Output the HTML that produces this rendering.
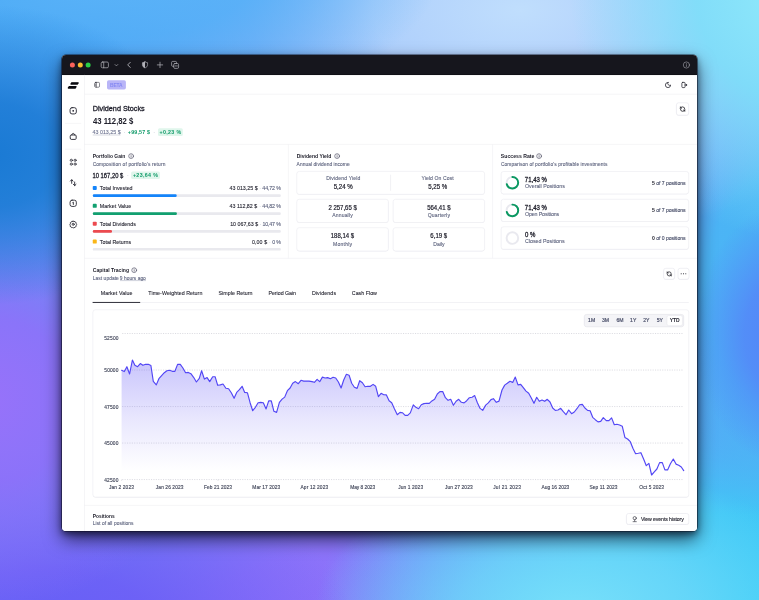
<!DOCTYPE html>
<html lang="en">
<head>
<meta charset="utf-8">
<title>Dividend Stocks</title>
<style>
html,body{margin:0;padding:0}
body{width:759px;height:600px;overflow:hidden;position:relative;font-family:"Liberation Sans", sans-serif;background:radial-gradient(ellipse 200px 150px at -10px 155px, rgba(26,122,212,1) 0%, rgba(26,122,212,.85) 35%, rgba(26,122,212,0) 100%),radial-gradient(ellipse 330px 150px at 110px -30px, rgba(92,180,248,1) 0%, rgba(82,176,248,.8) 45%, rgba(78,172,247,0) 100%),radial-gradient(ellipse 240px 210px at -20px 400px, rgba(152,114,250,1) 0%, rgba(146,110,250,.85) 40%, rgba(110,100,245,0) 100%),radial-gradient(ellipse 320px 200px at 40px 650px, rgba(102,92,246,1) 0%, rgba(106,92,246,.85) 40%, rgba(112,92,247,0) 100%),radial-gradient(ellipse 230px 250px at 800px -10px, rgba(146,236,251,1) 0%, rgba(126,224,249,.9) 45%, rgba(100,200,248,0) 100%),radial-gradient(ellipse 420px 230px at 520px 10px, rgba(192,222,253,1) 0%, rgba(188,218,253,.85) 35%, rgba(170,206,251,.45) 65%, rgba(160,200,250,0) 100%),radial-gradient(ellipse 90px 130px at 785px 335px, rgba(84,132,248,1) 0%, rgba(84,136,248,.88) 45%, rgba(78,160,248,0) 100%),radial-gradient(ellipse 170px 240px at 790px 290px, rgba(72,184,245,1) 0%, rgba(72,184,245,.92) 50%, rgba(72,190,245,0) 100%),radial-gradient(ellipse 260px 150px at 575px 615px, rgba(120,224,250,1) 0%, rgba(118,218,250,.7) 45%, rgba(118,210,250,0) 100%),radial-gradient(ellipse 420px 300px at 730px 640px, rgba(54,208,246,1) 0%, rgba(58,208,246,.9) 42%, rgba(66,212,247,0) 100%),radial-gradient(ellipse 300px 220px at 330px 640px, rgba(144,112,250,1) 0%, rgba(144,112,250,.85) 40%, rgba(144,112,250,0) 100%),linear-gradient(135deg, #4aa2f0 0%, #6f8cf6 50%, #7a78f6 100%);}
#shadow{position:absolute;left:61.9px;top:54.6px;width:635.2px;height:476.4px;border-radius:4px;background:linear-gradient(#16161d 0,#16161d 18px,#fff 18px,#fff 100%);
 box-shadow:0 0 0 0.6px rgba(10,10,25,.8), 0 8px 18px rgba(0,0,15,.66), 0 3px 6px rgba(0,0,15,.48);}
#win{position:absolute;left:61.9px;top:54.6px;width:635.2px;height:476.4px;border-radius:4px;overflow:hidden;background:#fff;}
#in{position:absolute;left:-61.9px;top:-54.6px;width:759px;height:600px;}
#in svg{position:absolute;left:0;top:0;}
.t{position:absolute;white-space:pre;line-height:12px;}
</style>
</head>
<body>
<div id="shadow"></div>
<div id="win"><div id="in">
<svg width="759" height="600" viewBox="0 0 759 600">
<rect x="60.90" y="53.60" width="637.20" height="21.30" fill="#16161d"/>
<line x1="61.90" y1="74.55" x2="697.10" y2="74.55" stroke="#050508" stroke-width="0.7"/>
<circle cx="72.40" cy="65.0" r="2.5" fill="#fb625b"/>
<circle cx="80.30" cy="65.0" r="2.5" fill="#fbbd2e"/>
<circle cx="88.10" cy="65.0" r="2.5" fill="#2bcf46"/>
<g transform="translate(104.80 64.90) scale(0.3600) translate(-12 -12)" fill="none" stroke="#b2b2b9" stroke-width="2" stroke-linecap="round" stroke-linejoin="round"><rect x="2" y="4" width="20" height="16" rx="3.5"/><path d="M9 4v16"/></g>
<g transform="translate(116.40 65.10) scale(0.2000) translate(-12 -12)" fill="none" stroke="#b2b2b9" stroke-width="3.2" stroke-linecap="round" stroke-linejoin="round"><path d="M5 9l7 7 7-7"/></g>
<g transform="translate(129.20 64.90) scale(0.3000) translate(-12 -12)" fill="none" stroke="#b2b2b9" stroke-width="3" stroke-linecap="round" stroke-linejoin="round"><path d="M15.500 3.500L7 12l8.500 8.500"/></g>
<g transform="translate(145.00 64.90) scale(0.3200) translate(-12 -12)" fill="none" stroke="#b2b2b9" stroke-width="2" stroke-linecap="round" stroke-linejoin="round"><path d="M12 2.500c2.500 1.500 5 2.200 8 2.500v6.500c0 5-3.500 8.500-8 10-4.500-1.500-8-5-8-10V5c3-.3 5.500-1 8-2.500z"/><path d="M12 2.500v19c-4.500-1.500-8-5-8-10V5c3-.3 5.500-1 8-2.500z" fill="#b2b2b9" stroke="none"/></g>
<g transform="translate(160.00 64.90) scale(0.3000) translate(-12 -12)" fill="none" stroke="#b2b2b9" stroke-width="2.4" stroke-linecap="round" stroke-linejoin="round"><path d="M12 3v18M3 12h18"/></g>
<g transform="translate(175.10 64.90) scale(0.3500) translate(-12 -12)" fill="none" stroke="#b2b2b9" stroke-width="2" stroke-linecap="round" stroke-linejoin="round"><rect x="8" y="8" width="14" height="14" rx="3.500"/><path d="M16 8V5a3 3 0 0 0-3-3H5a3 3 0 0 0-3 3v8a3 3 0 0 0 3 3h3"/><path d="M11.500 15h7"/></g>
<g transform="translate(686.40 65.00) scale(0.3100) translate(-12 -12)" fill="none" stroke="#b2b2b9" stroke-width="1.8" stroke-linecap="round" stroke-linejoin="round"><circle cx="12" cy="12" r="10"/><path d="M12 11v6"/><path d="M12 7.500v.01"/></g>
<line x1="84.50" y1="74.90" x2="84.50" y2="531.00" stroke="#eeeef2" stroke-width="0.6"/>
<line x1="84.50" y1="94.20" x2="697.10" y2="94.20" stroke="#eeeef2" stroke-width="0.6"/>
<line x1="65.00" y1="123.40" x2="81.20" y2="123.40" stroke="#eeeef2" stroke-width="0.6"/>
<line x1="65.00" y1="149.20" x2="81.20" y2="149.20" stroke="#eeeef2" stroke-width="0.6"/>
<line x1="84.50" y1="144.40" x2="697.10" y2="144.40" stroke="#eeeef2" stroke-width="0.6"/>
<line x1="84.50" y1="258.30" x2="697.10" y2="258.30" stroke="#eeeef2" stroke-width="0.6"/>
<line x1="84.50" y1="505.40" x2="697.10" y2="505.40" stroke="#eeeef2" stroke-width="0.6"/>
<line x1="288.40" y1="144.40" x2="288.40" y2="258.30" stroke="#eeeef2" stroke-width="0.6"/>
<line x1="492.60" y1="144.40" x2="492.60" y2="258.30" stroke="#eeeef2" stroke-width="0.6"/>
<g fill="#0a0a0f" stroke="#0a0a0f" stroke-width="1.35" stroke-linejoin="round"><path d="M71.700 82.850H78.150L77.450 84.000H71.000Z"/><path d="M69.100 86.750H76.000L75.300 87.950H68.400Z"/></g>
<g transform="translate(73.20 110.80) scale(0.3300) translate(-12 -12)" fill="none" stroke="#22222d" stroke-width="2.7" stroke-linecap="round" stroke-linejoin="round"><rect x="2.500" y="2.500" width="19" height="19" rx="6"/><circle cx="12" cy="12" r="2.700" fill="#22222d" stroke="none"/></g>
<g transform="translate(73.20 136.60) scale(0.3300) translate(-12 -12)" fill="none" stroke="#22222d" stroke-width="2.7" stroke-linecap="round" stroke-linejoin="round"><path d="M3 10c0-1.700 1.300-3 3-3h12c1.700 0 3 1.300 3 3v7.500c0 1.700-1.300 3-3 3H6c-1.700 0-3-1.300-3-3z"/><path d="M7.500 7c0-2.500 2-4.500 4.500-4.500s4.500 2 4.500 4.500"/></g>
<g transform="translate(73.20 162.20) scale(0.3300) translate(-12 -12)" fill="none" stroke="#22222d" stroke-width="2.3" stroke-linecap="round" stroke-linejoin="round"><circle cx="6.200" cy="6.200" r="3.300"/><circle cx="17.800" cy="6.200" r="3.300"/><circle cx="6.200" cy="17.800" r="3.300"/><circle cx="17.800" cy="17.800" r="3.300"/></g>
<g transform="translate(73.20 182.70) scale(0.3300) translate(-12 -12)" fill="none" stroke="#22222d" stroke-width="2.7" stroke-linecap="round" stroke-linejoin="round"><path d="M7.500 14V3.500M3.500 7l4-4 4 4M16.500 10v10.500M20.500 17l-4 4-4-4"/></g>
<g transform="translate(73.20 203.30) scale(0.3300) translate(-12 -12)" fill="none" stroke="#22222d" stroke-width="2.6" stroke-linecap="round" stroke-linejoin="round"><rect x="2.500" y="2.500" width="19" height="19" rx="6"/><path d="M10.800 9.500l1.700-1v7"/></g>
<g transform="translate(73.20 224.30) scale(0.3300) translate(-12 -12)" fill="none" stroke="#22222d" stroke-width="2.5" stroke-linecap="round" stroke-linejoin="round"><circle cx="12" cy="12" r="3.200"/><path d="M12 2.200l2.500 1.500 2.900-.3 1.200 2.700 2.700 1.200-.3 2.900 1.500 2.500-1.500 2.500.3 2.900-2.700 1.200-1.200 2.700-2.900-.3-2.500 1.500-2.500-1.500-2.900.3-1.200-2.700-2.700-1.200.3-2.900L2 12.700l1.500-2.500-.3-2.900 2.700-1.200 1.200-2.700 2.900.3z"/></g>
<g transform="translate(97.10 84.80) scale(0.2700) translate(-12 -12)" fill="none" stroke="#22222d" stroke-width="2" stroke-linecap="round" stroke-linejoin="round"><rect x="3" y="3" width="18" height="18" rx="4"/><path d="M9 3v18"/><path d="M3 7h6v10H3z" fill="#22222d" stroke="none" opacity=".35"/></g>
<rect x="107.00" y="80.20" width="18.90" height="9.30" rx="1.70" fill="#b9b5f7"/>
<g transform="translate(668.00 85.00) scale(0.2900) translate(-12 -12)" fill="none" stroke="#22222d" stroke-width="2.6" stroke-linecap="round" stroke-linejoin="round"><path d="M12 3a6.500 6.500 0 0 0 9 9 9 9 0 1 1-9-9z"/></g>
<g transform="translate(684.20 85.00) scale(0.2900) translate(-12 -12)" fill="none" stroke="#22222d" stroke-width="2.6" stroke-linecap="round" stroke-linejoin="round"><rect x="4" y="3" width="11" height="18" rx="3"/><path d="M15 12h6M19 9.500l2.500 2.500-2.500 2.500" /></g>
<rect x="676.40" y="103.20" width="12.30" height="12.50" rx="2.20" fill="#f1f1f4"/>
<rect x="676.40" y="102.80" width="12.30" height="12.40" rx="2.20" fill="#fff" stroke="#e4e4ea" stroke-width="0.55"/>
<g transform="translate(682.60 109.10) scale(0.2450) translate(-12 -12)" fill="none" stroke="#15151d" stroke-width="3.1" stroke-linecap="round" stroke-linejoin="round"><path d="M21 12a9 9 0 0 0-9-9 9.750 9.750 0 0 0-6.740 2.740L3 8"/><path d="M3 3v5h5"/><path d="M3 12a9 9 0 0 0 9 9 9.750 9.750 0 0 0 6.740-2.740L21 16"/><path d="M16 16h5v5"/></g>
<line x1="92.80" y1="135.00" x2="120.50" y2="135.00" stroke="#a5a9bd" stroke-width="0.45"/>
<rect x="158.00" y="128.20" width="24.80" height="7.90" rx="1.50" fill="#e0f6ec"/>
<g fill="none" stroke="#3f3f58" stroke-width="0.6" stroke-linecap="round"><circle cx="131.10" cy="156.10" r="2.4"/><path d="M131.10 155.95v1.250"/><path d="M131.10 154.95v0.050" stroke-width="0.55"/></g>
<rect x="131.10" y="171.40" width="28.80" height="7.50" rx="1.50" fill="#e0f6ec"/>
<rect x="92.75" y="185.90" width="4.00" height="4.00" rx="0.90" fill="#1484fa"/>
<rect x="92.80" y="194.30" width="188.00" height="2.70" rx="1.20" fill="#e9e9ee"/>
<rect x="92.80" y="194.30" width="83.90" height="2.70" rx="1.20" fill="#1484fa"/>
<rect x="92.75" y="203.80" width="4.00" height="4.00" rx="0.90" fill="#12a070"/>
<rect x="92.80" y="212.20" width="188.00" height="2.70" rx="1.20" fill="#e9e9ee"/>
<rect x="92.80" y="212.20" width="84.10" height="2.70" rx="1.20" fill="#12a070"/>
<rect x="92.75" y="221.70" width="4.00" height="4.00" rx="0.90" fill="#ec4a4f"/>
<rect x="92.80" y="230.00" width="188.00" height="2.80" rx="1.20" fill="#e9e9ee"/>
<rect x="92.80" y="230.00" width="19.20" height="2.80" rx="1.20" fill="#ec4a4f"/>
<rect x="92.75" y="239.60" width="4.00" height="4.00" rx="0.90" fill="#fab617"/>
<rect x="92.80" y="247.90" width="188.00" height="2.70" rx="1.20" fill="#e9e9ee"/>
<g fill="none" stroke="#3f3f58" stroke-width="0.6" stroke-linecap="round"><circle cx="337.10" cy="156.10" r="2.4"/><path d="M337.10 155.95v1.250"/><path d="M337.10 154.95v0.050" stroke-width="0.55"/></g>
<rect x="296.80" y="171.90" width="187.80" height="23.10" rx="2.40" fill="#f4f4f7"/>
<rect x="296.80" y="171.40" width="187.80" height="23.00" rx="2.40" fill="#fff" stroke="#e9e9ee" stroke-width="0.55"/>
<line x1="390.60" y1="174.70" x2="390.60" y2="190.80" stroke="#e6e6ec" stroke-width="0.6"/>
<rect x="296.80" y="199.80" width="91.60" height="23.30" rx="2.40" fill="#f4f4f7"/>
<rect x="296.80" y="199.30" width="91.60" height="23.20" rx="2.40" fill="#fff" stroke="#e9e9ee" stroke-width="0.55"/>
<rect x="393.10" y="199.80" width="91.50" height="23.30" rx="2.40" fill="#f4f4f7"/>
<rect x="393.10" y="199.30" width="91.50" height="23.20" rx="2.40" fill="#fff" stroke="#e9e9ee" stroke-width="0.55"/>
<rect x="296.80" y="228.20" width="91.60" height="23.40" rx="2.40" fill="#f4f4f7"/>
<rect x="296.80" y="227.70" width="91.60" height="23.30" rx="2.40" fill="#fff" stroke="#e9e9ee" stroke-width="0.55"/>
<rect x="393.10" y="228.20" width="91.50" height="23.40" rx="2.40" fill="#f4f4f7"/>
<rect x="393.10" y="227.70" width="91.50" height="23.30" rx="2.40" fill="#fff" stroke="#e9e9ee" stroke-width="0.55"/>
<g fill="none" stroke="#3f3f58" stroke-width="0.6" stroke-linecap="round"><circle cx="539.10" cy="156.10" r="2.4"/><path d="M539.10 155.95v1.250"/><path d="M539.10 154.95v0.050" stroke-width="0.55"/></g>
<rect x="501.10" y="172.00" width="187.60" height="22.50" rx="2.40" fill="#f4f4f7"/>
<rect x="501.10" y="171.50" width="187.60" height="22.40" rx="2.40" fill="#fff" stroke="#e9e9ee" stroke-width="0.55"/>
<circle cx="512.40" cy="182.70" r="5.80" fill="none" stroke="#e9e9ef" stroke-width="1.95"/>
<circle cx="512.40" cy="182.70" r="5.80" fill="none" stroke="#0b9962" stroke-width="1.95" stroke-linecap="round" stroke-dasharray="25.03 36.44" transform="rotate(-90 512.40 182.70)"/>
<rect x="501.10" y="199.80" width="187.60" height="22.30" rx="2.40" fill="#f4f4f7"/>
<rect x="501.10" y="199.30" width="187.60" height="22.20" rx="2.40" fill="#fff" stroke="#e9e9ee" stroke-width="0.55"/>
<circle cx="512.40" cy="210.40" r="5.80" fill="none" stroke="#e9e9ef" stroke-width="1.95"/>
<circle cx="512.40" cy="210.40" r="5.80" fill="none" stroke="#0b9962" stroke-width="1.95" stroke-linecap="round" stroke-dasharray="25.03 36.44" transform="rotate(-90 512.40 210.40)"/>
<rect x="501.10" y="227.30" width="187.60" height="22.60" rx="2.40" fill="#f4f4f7"/>
<rect x="501.10" y="226.80" width="187.60" height="22.50" rx="2.40" fill="#fff" stroke="#e9e9ee" stroke-width="0.55"/>
<circle cx="512.40" cy="238.05" r="5.80" fill="none" stroke="#e9e9ef" stroke-width="1.95"/>
<g fill="none" stroke="#3f3f58" stroke-width="0.6" stroke-linecap="round"><circle cx="134.20" cy="270.20" r="2.4"/><path d="M134.20 270.05v1.250"/><path d="M134.20 269.05v0.050" stroke-width="0.55"/></g>
<line x1="120.00" y1="280.60" x2="146.00" y2="280.60" stroke="#8a90a8" stroke-width="0.4"/>
<rect x="663.60" y="268.70" width="11.10" height="11.10" rx="2.20" fill="#f1f1f4"/>
<rect x="663.60" y="268.30" width="11.10" height="11.00" rx="2.20" fill="#fff" stroke="#e4e4ea" stroke-width="0.55"/>
<g transform="translate(669.20 273.90) scale(0.2300) translate(-12 -12)" fill="none" stroke="#15151d" stroke-width="3.1" stroke-linecap="round" stroke-linejoin="round"><path d="M21 12a9 9 0 0 0-9-9 9.750 9.750 0 0 0-6.740 2.740L3 8"/><path d="M3 3v5h5"/><path d="M3 12a9 9 0 0 0 9 9 9.750 9.750 0 0 0 6.740-2.740L21 16"/><path d="M16 16h5v5"/></g>
<rect x="678.00" y="268.70" width="11.00" height="11.10" rx="2.20" fill="#f1f1f4"/>
<rect x="678.00" y="268.30" width="11.00" height="11.00" rx="2.20" fill="#fff" stroke="#e4e4ea" stroke-width="0.55"/>
<g fill="#22222d"><circle cx="681.2" cy="273.8" r="0.55"/><circle cx="683.5" cy="273.8" r="0.55"/><circle cx="685.8" cy="273.8" r="0.55"/></g>
<line x1="92.90" y1="302.50" x2="688.80" y2="302.50" stroke="#ececf0" stroke-width="0.7"/>
<line x1="93" y1="302.45" x2="139.8" y2="302.45" stroke="#24242f" stroke-width="0.95" stroke-linecap="round"/>
<rect x="92.90" y="310.30" width="595.90" height="187.40" rx="2.40" fill="#f4f4f7"/>
<rect x="92.90" y="309.80" width="595.90" height="187.30" rx="2.40" fill="#fff" stroke="#e9e9ee" stroke-width="0.55"/>
<rect x="584.30" y="314.40" width="99.40" height="12.40" rx="2.30" fill="#f4f4f7" stroke="#dedee6" stroke-width="0.55"/>
<rect x="666.90" y="315.50" width="15.50" height="10.20" rx="1.80" fill="#fff" stroke="#e2e2e9" stroke-width="0.5"/>
<line x1="122.2" y1="333.50" x2="683.8" y2="333.50" stroke="#c4c4ce" stroke-width="0.6" stroke-dasharray="1.100 1.300"/>
<line x1="122.2" y1="370.05" x2="683.8" y2="370.05" stroke="#c4c4ce" stroke-width="0.6" stroke-dasharray="1.100 1.300"/>
<line x1="122.2" y1="406.55" x2="683.8" y2="406.55" stroke="#c4c4ce" stroke-width="0.6" stroke-dasharray="1.100 1.300"/>
<line x1="122.2" y1="443.05" x2="683.8" y2="443.05" stroke="#c4c4ce" stroke-width="0.6" stroke-dasharray="1.100 1.300"/>
<line x1="122.2" y1="479.55" x2="683.8" y2="479.55" stroke="#c4c4ce" stroke-width="0.6" stroke-dasharray="1.100 1.300"/>
<line x1="121.60" y1="479.40" x2="121.60" y2="481.00" stroke="#c8c8d0" stroke-width="0.45"/>
<line x1="169.80" y1="479.40" x2="169.80" y2="481.00" stroke="#c8c8d0" stroke-width="0.45"/>
<line x1="218.00" y1="479.40" x2="218.00" y2="481.00" stroke="#c8c8d0" stroke-width="0.45"/>
<line x1="266.20" y1="479.40" x2="266.20" y2="481.00" stroke="#c8c8d0" stroke-width="0.45"/>
<line x1="314.40" y1="479.40" x2="314.40" y2="481.00" stroke="#c8c8d0" stroke-width="0.45"/>
<line x1="362.60" y1="479.40" x2="362.60" y2="481.00" stroke="#c8c8d0" stroke-width="0.45"/>
<line x1="410.80" y1="479.40" x2="410.80" y2="481.00" stroke="#c8c8d0" stroke-width="0.45"/>
<line x1="459.00" y1="479.40" x2="459.00" y2="481.00" stroke="#c8c8d0" stroke-width="0.45"/>
<line x1="507.20" y1="479.40" x2="507.20" y2="481.00" stroke="#c8c8d0" stroke-width="0.45"/>
<line x1="555.40" y1="479.40" x2="555.40" y2="481.00" stroke="#c8c8d0" stroke-width="0.45"/>
<line x1="603.60" y1="479.40" x2="603.60" y2="481.00" stroke="#c8c8d0" stroke-width="0.45"/>
<line x1="651.80" y1="479.40" x2="651.80" y2="481.00" stroke="#c8c8d0" stroke-width="0.45"/>
<defs><linearGradient id="cg" x1="0" y1="0" x2="0" y2="1"><stop offset="0" stop-color="#5b4ef5" stop-opacity="0.33"/><stop offset="0.5" stop-color="#5b4ef5" stop-opacity="0.135"/><stop offset="0.93" stop-color="#5b4ef5" stop-opacity="0"/></linearGradient></defs>
<path d="M121.6 370.3 L124.3 371.6 L126.9 366.7 L129.6 374.0 L132.4 360.0 L134.9 365.3 L137.6 366.7 L140.3 363.6 L142.9 365.3 L145.6 364.3 L148.3 364.3 L150.9 365.5 L153.3 381.3 L156.3 384.9 L158.9 378.7 L161.6 375.6 L164.3 372.7 L166.9 370.7 L169.6 370.3 L172.3 371.3 L174.9 371.3 L177.6 364.4 L180.3 364.3 L182.9 368.0 L185.6 372.7 L188.3 372.4 L190.9 373.7 L193.6 377.3 L196.4 382.0 L199.3 378.3 L201.6 370.7 L204.4 379.1 L207.1 377.6 L209.7 381.6 L212.7 376.7 L215.1 376.7 L217.7 385.3 L220.3 384.9 L223.0 384.0 L225.9 388.3 L228.6 388.7 L231.3 392.7 L234.1 398.3 L236.7 392.4 L239.4 389.7 L242.1 386.3 L244.7 392.4 L247.4 392.7 L250.1 402.7 L252.7 410.7 L255.4 407.3 L258.1 402.7 L260.7 402.4 L263.3 402.7 L266.1 408.9 L268.7 400.9 L271.3 400.9 L273.9 411.3 L276.6 412.4 L279.4 402.3 L282.1 399.1 L284.7 397.1 L287.4 390.7 L290.1 388.0 L292.7 383.3 L295.4 381.6 L298.3 383.7 L301.0 380.3 L303.7 381.1 L306.3 381.1 L309.0 381.1 L312.0 381.6 L314.4 382.3 L317.1 379.3 L319.7 381.7 L322.4 377.1 L325.1 378.0 L327.7 377.6 L330.4 378.7 L333.1 377.3 L335.7 378.0 L338.4 382.0 L341.1 388.0 L343.7 380.0 L346.4 374.3 L349.1 375.3 L351.7 383.3 L354.4 387.3 L357.1 388.4 L359.7 380.7 L362.4 382.7 L365.1 386.7 L367.7 386.3 L370.4 386.3 L373.1 384.4 L375.7 386.3 L378.4 396.7 L381.1 393.3 L383.7 394.7 L386.4 394.9 L389.1 400.7 L391.7 402.7 L394.4 408.7 L397.3 414.7 L400.0 412.4 L402.4 412.7 L405.1 415.3 L407.7 415.3 L410.3 412.9 L413.3 404.9 L415.9 407.3 L418.6 408.7 L421.3 404.7 L423.9 403.6 L426.6 403.3 L429.3 403.3 L431.9 400.9 L434.6 399.3 L437.3 394.0 L439.9 391.6 L442.7 391.6 L445.4 397.7 L448.1 400.3 L450.7 399.3 L453.4 405.3 L456.1 401.3 L458.7 399.3 L461.4 402.3 L464.1 402.9 L466.7 400.7 L469.4 397.7 L472.1 397.3 L474.7 395.6 L477.4 402.7 L480.1 408.4 L482.7 410.4 L485.7 405.1 L488.3 402.9 L491.0 399.6 L493.4 398.7 L496.3 402.3 L499.0 401.1 L502.0 390.0 L504.7 385.1 L507.3 383.3 L510.0 381.3 L512.7 382.4 L515.3 377.1 L518.0 384.9 L520.7 384.4 L523.3 387.6 L526.0 391.1 L528.7 393.3 L531.3 398.0 L534.0 403.3 L536.7 397.3 L539.3 401.3 L542.0 400.0 L544.7 401.3 L547.3 399.3 L550.0 402.0 L552.7 408.0 L555.3 410.4 L558.0 410.0 L560.7 408.3 L563.3 411.7 L566.0 414.7 L568.7 410.0 L571.6 413.7 L574.3 412.0 L576.9 408.7 L579.6 404.7 L582.3 404.4 L584.9 408.0 L587.6 410.4 L590.1 410.8 L592.7 417.3 L595.3 419.7 L598.0 421.9 L600.7 421.4 L603.3 417.7 L606.3 420.6 L608.9 420.6 L611.6 417.9 L614.3 424.7 L616.9 424.3 L619.6 425.0 L622.3 426.3 L624.9 437.4 L627.6 439.0 L630.3 441.7 L632.9 448.3 L635.6 453.7 L638.3 453.3 L640.9 452.7 L643.6 459.0 L646.3 465.7 L648.9 463.3 L651.6 475.0 L654.3 471.9 L656.9 469.0 L659.6 462.6 L662.3 462.6 L664.9 469.9 L667.6 469.9 L670.4 463.7 L673.3 459.0 L676.0 464.1 L678.7 465.3 L681.3 467.0 L683.7 470.6 L683.7 479.400 L121.6 479.400 Z" fill="url(#cg)"/>
<path d="M121.6 370.3 L124.3 371.6 L126.9 366.7 L129.6 374.0 L132.4 360.0 L134.9 365.3 L137.6 366.7 L140.3 363.6 L142.9 365.3 L145.6 364.3 L148.3 364.3 L150.9 365.5 L153.3 381.3 L156.3 384.9 L158.9 378.7 L161.6 375.6 L164.3 372.7 L166.9 370.7 L169.6 370.3 L172.3 371.3 L174.9 371.3 L177.6 364.4 L180.3 364.3 L182.9 368.0 L185.6 372.7 L188.3 372.4 L190.9 373.7 L193.6 377.3 L196.4 382.0 L199.3 378.3 L201.6 370.7 L204.4 379.1 L207.1 377.6 L209.7 381.6 L212.7 376.7 L215.1 376.7 L217.7 385.3 L220.3 384.9 L223.0 384.0 L225.9 388.3 L228.6 388.7 L231.3 392.7 L234.1 398.3 L236.7 392.4 L239.4 389.7 L242.1 386.3 L244.7 392.4 L247.4 392.7 L250.1 402.7 L252.7 410.7 L255.4 407.3 L258.1 402.7 L260.7 402.4 L263.3 402.7 L266.1 408.9 L268.7 400.9 L271.3 400.9 L273.9 411.3 L276.6 412.4 L279.4 402.3 L282.1 399.1 L284.7 397.1 L287.4 390.7 L290.1 388.0 L292.7 383.3 L295.4 381.6 L298.3 383.7 L301.0 380.3 L303.7 381.1 L306.3 381.1 L309.0 381.1 L312.0 381.6 L314.4 382.3 L317.1 379.3 L319.7 381.7 L322.4 377.1 L325.1 378.0 L327.7 377.6 L330.4 378.7 L333.1 377.3 L335.7 378.0 L338.4 382.0 L341.1 388.0 L343.7 380.0 L346.4 374.3 L349.1 375.3 L351.7 383.3 L354.4 387.3 L357.1 388.4 L359.7 380.7 L362.4 382.7 L365.1 386.7 L367.7 386.3 L370.4 386.3 L373.1 384.4 L375.7 386.3 L378.4 396.7 L381.1 393.3 L383.7 394.7 L386.4 394.9 L389.1 400.7 L391.7 402.7 L394.4 408.7 L397.3 414.7 L400.0 412.4 L402.4 412.7 L405.1 415.3 L407.7 415.3 L410.3 412.9 L413.3 404.9 L415.9 407.3 L418.6 408.7 L421.3 404.7 L423.9 403.6 L426.6 403.3 L429.3 403.3 L431.9 400.9 L434.6 399.3 L437.3 394.0 L439.9 391.6 L442.7 391.6 L445.4 397.7 L448.1 400.3 L450.7 399.3 L453.4 405.3 L456.1 401.3 L458.7 399.3 L461.4 402.3 L464.1 402.9 L466.7 400.7 L469.4 397.7 L472.1 397.3 L474.7 395.6 L477.4 402.7 L480.1 408.4 L482.7 410.4 L485.7 405.1 L488.3 402.9 L491.0 399.6 L493.4 398.7 L496.3 402.3 L499.0 401.1 L502.0 390.0 L504.7 385.1 L507.3 383.3 L510.0 381.3 L512.7 382.4 L515.3 377.1 L518.0 384.9 L520.7 384.4 L523.3 387.6 L526.0 391.1 L528.7 393.3 L531.3 398.0 L534.0 403.3 L536.7 397.3 L539.3 401.3 L542.0 400.0 L544.7 401.3 L547.3 399.3 L550.0 402.0 L552.7 408.0 L555.3 410.4 L558.0 410.0 L560.7 408.3 L563.3 411.7 L566.0 414.7 L568.7 410.0 L571.6 413.7 L574.3 412.0 L576.9 408.7 L579.6 404.7 L582.3 404.4 L584.9 408.0 L587.6 410.4 L590.1 410.8 L592.7 417.3 L595.3 419.7 L598.0 421.9 L600.7 421.4 L603.3 417.7 L606.3 420.6 L608.9 420.6 L611.6 417.9 L614.3 424.7 L616.9 424.3 L619.6 425.0 L622.3 426.3 L624.9 437.4 L627.6 439.0 L630.3 441.7 L632.9 448.3 L635.6 453.7 L638.3 453.3 L640.9 452.7 L643.6 459.0 L646.3 465.7 L648.9 463.3 L651.6 475.0 L654.3 471.9 L656.9 469.0 L659.6 462.6 L662.3 462.6 L664.9 469.9 L667.6 469.9 L670.4 463.7 L673.3 459.0 L676.0 464.1 L678.7 465.3 L681.3 467.0 L683.7 470.6" fill="none" stroke="#5246f5" stroke-width="1.15" stroke-linejoin="round" stroke-linecap="round"/>
<rect x="626.40" y="513.90" width="62.40" height="11.00" rx="2.20" fill="#f1f1f4"/>
<rect x="626.40" y="513.50" width="62.40" height="10.90" rx="2.20" fill="#fff" stroke="#e4e4ea" stroke-width="0.55"/>
<g transform="translate(634.70 519.10) scale(0.2700) translate(-12 -12)" fill="none" stroke="#22222d" stroke-width="2.2" stroke-linecap="round" stroke-linejoin="round"><circle cx="12" cy="8.500" r="6"/><path d="M12 14.500v5M6 21.500h12"/></g>
</svg>
<span class="t" style="left:92.00px;top:103px;font-size:7.8px;color:#20202c;-webkit-text-stroke:0.3px #20202c;transform:translateX(0.67px) scaleX(0.9317);transform-origin:0 0;">Dividend Stocks</span>
<span class="t" style="left:92.00px;top:115px;font-size:8.3px;color:#20202c;font-weight:700;transform:translateX(0.92px) scaleX(0.9328);transform-origin:0 0;">43 112,82 $</span>
<span class="t" style="left:92.59px;top:126px;font-size:5.3px;color:#6d7390;letter-spacing:0.006px;-webkit-text-stroke:0.1px #6d7390;">43 013,25 $</span>
<span class="t" style="left:123.75px;top:126px;font-size:5.3px;color:#9aa0b4;">·</span>
<span class="t" style="left:127.87px;top:126px;font-size:5.3px;color:#0f9a68;font-weight:700;letter-spacing:0.188px;">+99,57 $</span>
<span class="t" style="left:153.15px;top:126px;font-size:5.3px;color:#9aa0b4;">·</span>
<span class="t" style="left:159.51px;top:126px;font-size:5.3px;color:#0f9a68;font-weight:700;letter-spacing:0.344px;">+0,23 %</span>
<span class="t" style="left:110.03px;top:80px;font-size:4.9px;color:#8488f3;font-weight:700;letter-spacing:-0.157px;">BETA</span>
<span class="t" style="left:92.00px;top:150px;font-size:5.3px;color:#1c1c28;font-weight:700;transform:translateX(0.68px) scaleX(0.9315);transform-origin:0 0;">Portfolio Gain</span>
<span class="t" style="left:92.63px;top:159px;font-size:4.85px;color:#5c627d;letter-spacing:0.141px;-webkit-text-stroke:0.1px #5c627d;">Composition of portfolio's return</span>
<span class="t" style="left:92.00px;top:170px;font-size:6.6px;color:#1c1c28;-webkit-text-stroke:0.28px #1c1c28;transform:translateX(0.48px) scaleX(0.8842);transform-origin:0 0;">10 167,20 $</span>
<span class="t" style="left:126.95px;top:169px;font-size:5.3px;color:#9aa0b4;">·</span>
<span class="t" style="left:132.88px;top:169px;font-size:5.3px;color:#0f9a68;font-weight:700;letter-spacing:0.359px;">+23,64 %</span>
<span class="t" style="left:99.81px;top:182px;font-size:5.3px;color:#242430;letter-spacing:0.005px;-webkit-text-stroke:0.1px #242430;">Total Invested</span>
<span class="t" style="left:229.59px;top:182px;font-size:5.3px;color:#242430;letter-spacing:0.006px;-webkit-text-stroke:0.1px #242430;">43 013,25 $</span>
<span class="t" style="left:259.35px;top:182px;font-size:5.3px;color:#9aa0b4;">·</span>
<span class="t" style="left:262.35px;top:182px;font-size:5.3px;color:#5c627d;letter-spacing:-0.154px;-webkit-text-stroke:0.1px #5c627d;">44,72 %</span>
<span class="t" style="left:99.81px;top:200px;font-size:5.3px;color:#242430;letter-spacing:0.063px;-webkit-text-stroke:0.1px #242430;">Market Value</span>
<span class="t" style="left:229.59px;top:200px;font-size:5.3px;color:#242430;-webkit-text-stroke:0.1px #242430;">43 112,82 $</span>
<span class="t" style="left:259.25px;top:200px;font-size:5.3px;color:#9aa0b4;">·</span>
<span class="t" style="left:262.36px;top:200px;font-size:5.3px;color:#5c627d;letter-spacing:-0.158px;-webkit-text-stroke:0.1px #5c627d;">44,82 %</span>
<span class="t" style="left:99.81px;top:218px;font-size:5.3px;color:#242430;letter-spacing:0.012px;-webkit-text-stroke:0.1px #242430;">Total Dividends</span>
<span class="t" style="left:230.18px;top:218px;font-size:5.3px;color:#242430;letter-spacing:-0.006px;-webkit-text-stroke:0.1px #242430;">10 067,63 $</span>
<span class="t" style="left:259.80px;top:218px;font-size:5.3px;color:#9aa0b4;">·</span>
<span class="t" style="left:262.48px;top:218px;font-size:5.3px;color:#5c627d;letter-spacing:-0.165px;-webkit-text-stroke:0.1px #5c627d;">10,47 %</span>
<span class="t" style="left:99.81px;top:236px;font-size:5.3px;color:#242430;letter-spacing:0.012px;-webkit-text-stroke:0.1px #242430;">Total Returns</span>
<span class="t" style="left:251.93px;top:236px;font-size:5.3px;color:#242430;letter-spacing:0.099px;-webkit-text-stroke:0.1px #242430;">0,00 $</span>
<span class="t" style="left:269.05px;top:236px;font-size:5.3px;color:#9aa0b4;">·</span>
<span class="t" style="left:272.13px;top:236px;font-size:5.3px;color:#5c627d;letter-spacing:-0.185px;-webkit-text-stroke:0.1px #5c627d;">0 %</span>
<span class="t" style="left:296.00px;top:150px;font-size:5.3px;color:#1c1c28;font-weight:700;transform:translateX(0.63px) scaleX(0.9605);transform-origin:0 0;">Dividend Yield</span>
<span class="t" style="left:296.61px;top:159px;font-size:4.85px;color:#5c627d;letter-spacing:0.073px;-webkit-text-stroke:0.1px #5c627d;">Annual dividend income</span>
<span class="t" style="left:326.16px;top:172px;font-size:5.1px;color:#5c627d;letter-spacing:0.148px;-webkit-text-stroke:0.1px #5c627d;">Dividend Yield</span>
<span class="t" style="left:333.00px;top:181px;font-size:6.8px;color:#1c1c28;-webkit-text-stroke:0.2px #1c1c28;transform:translateX(0.72px) scaleX(0.9000);transform-origin:0 0;">5,24 %</span>
<span class="t" style="left:421.45px;top:172px;font-size:5.1px;color:#5c627d;letter-spacing:0.091px;-webkit-text-stroke:0.1px #5c627d;">Yield On Cost</span>
<span class="t" style="left:428.00px;top:181px;font-size:6.8px;color:#1c1c28;-webkit-text-stroke:0.2px #1c1c28;transform:translateX(0.13px) scaleX(0.9000);transform-origin:0 0;">5,25 %</span>
<span class="t" style="left:328.00px;top:202px;font-size:6.8px;color:#1c1c28;-webkit-text-stroke:0.2px #1c1c28;transform:translateX(0.40px) scaleX(0.8850);transform-origin:0 0;">2 257,65 $</span>
<span class="t" style="left:332.23px;top:209px;font-size:5.1px;color:#5c627d;letter-spacing:0.133px;-webkit-text-stroke:0.1px #5c627d;">Annually</span>
<span class="t" style="left:427.00px;top:202px;font-size:6.8px;color:#1c1c28;-webkit-text-stroke:0.2px #1c1c28;transform:translateX(0.13px) scaleX(0.8850);transform-origin:0 0;">564,41 $</span>
<span class="t" style="left:427.66px;top:209px;font-size:5.1px;color:#5c627d;letter-spacing:0.171px;-webkit-text-stroke:0.1px #5c627d;">Quarterly</span>
<span class="t" style="left:330.00px;top:230px;font-size:6.8px;color:#1c1c28;-webkit-text-stroke:0.2px #1c1c28;transform:translateX(0.73px) scaleX(0.8850);transform-origin:0 0;">188,14 $</span>
<span class="t" style="left:332.97px;top:238px;font-size:5.1px;color:#5c627d;letter-spacing:0.217px;-webkit-text-stroke:0.1px #5c627d;">Monthly</span>
<span class="t" style="left:430.00px;top:230px;font-size:6.8px;color:#1c1c28;-webkit-text-stroke:0.2px #1c1c28;transform:translateX(0.36px) scaleX(0.8850);transform-origin:0 0;">6,19 $</span>
<span class="t" style="left:433.20px;top:238px;font-size:5.1px;color:#5c627d;letter-spacing:0.039px;-webkit-text-stroke:0.1px #5c627d;">Daily</span>
<span class="t" style="left:500.00px;top:150px;font-size:5.3px;color:#1c1c28;font-weight:700;transform:translateX(0.87px) scaleX(0.9723);transform-origin:0 0;">Success Rate</span>
<span class="t" style="left:500.89px;top:159px;font-size:4.85px;color:#5c627d;letter-spacing:0.100px;-webkit-text-stroke:0.1px #5c627d;">Comparison of portfolio's profitable investments</span>
<span class="t" style="left:524.00px;top:174px;font-size:6.8px;color:#1c1c28;-webkit-text-stroke:0.3px #1c1c28;transform:translateX(0.85px) scaleX(0.8870);transform-origin:0 0;">71,43 %</span>
<span class="t" style="left:524.90px;top:180px;font-size:5.3px;color:#5c627d;letter-spacing:0.009px;-webkit-text-stroke:0.1px #5c627d;">Overall Positions</span>
<span class="t" style="left:652.10px;top:177px;font-size:5.1px;color:#1c1c28;font-weight:700;">5</span>
<span class="t" style="left:656.32px;top:177px;font-size:5.1px;color:#454b66;letter-spacing:-0.066px;-webkit-text-stroke:0.12px #454b66;">of 7 positions</span>
<span class="t" style="left:524.00px;top:202px;font-size:6.8px;color:#1c1c28;-webkit-text-stroke:0.3px #1c1c28;transform:translateX(0.85px) scaleX(0.8870);transform-origin:0 0;">71,43 %</span>
<span class="t" style="left:524.95px;top:208px;font-size:5.3px;color:#5c627d;letter-spacing:-0.131px;-webkit-text-stroke:0.1px #5c627d;">Open Positions</span>
<span class="t" style="left:652.10px;top:204px;font-size:5.1px;color:#1c1c28;font-weight:700;">5</span>
<span class="t" style="left:656.32px;top:204px;font-size:5.1px;color:#454b66;letter-spacing:-0.066px;-webkit-text-stroke:0.12px #454b66;">of 7 positions</span>
<span class="t" style="left:525.00px;top:229px;font-size:6.8px;color:#1c1c28;-webkit-text-stroke:0.3px #1c1c28;transform:translateX(0.06px) scaleX(0.8870);transform-origin:0 0;">0 %</span>
<span class="t" style="left:524.94px;top:235px;font-size:5.3px;color:#5c627d;letter-spacing:0.020px;-webkit-text-stroke:0.1px #5c627d;">Closed Positions</span>
<span class="t" style="left:652.08px;top:232px;font-size:5.1px;color:#1c1c28;font-weight:700;">0</span>
<span class="t" style="left:656.32px;top:232px;font-size:5.1px;color:#454b66;letter-spacing:-0.066px;-webkit-text-stroke:0.12px #454b66;">of 0 positions</span>
<span class="t" style="left:92.00px;top:264px;font-size:5.3px;color:#1c1c28;font-weight:700;transform:translateX(0.76px) scaleX(0.9535);transform-origin:0 0;">Capital Tracing</span>
<span class="t" style="left:92.76px;top:273px;font-size:4.85px;color:#5c627d;letter-spacing:0.073px;-webkit-text-stroke:0.1px #5c627d;">Last update</span>
<span class="t" style="left:119.84px;top:273px;font-size:4.85px;color:#5c627d;letter-spacing:0.040px;-webkit-text-stroke:0.1px #5c627d;">9 hours ago</span>
<span class="t" style="left:100.71px;top:287px;font-size:5.3px;color:#262632;letter-spacing:0.081px;-webkit-text-stroke:0.1px #262632;">Market Value</span>
<span class="t" style="left:148.31px;top:287px;font-size:5.3px;color:#262632;letter-spacing:0.058px;-webkit-text-stroke:0.1px #262632;">Time-Weighted Return</span>
<span class="t" style="left:218.51px;top:287px;font-size:5.3px;color:#262632;letter-spacing:0.035px;-webkit-text-stroke:0.1px #262632;">Simple Return</span>
<span class="t" style="left:268.46px;top:287px;font-size:5.3px;color:#262632;letter-spacing:-0.038px;-webkit-text-stroke:0.1px #262632;">Period Gain</span>
<span class="t" style="left:311.88px;top:287px;font-size:5.3px;color:#262632;letter-spacing:0.117px;-webkit-text-stroke:0.1px #262632;">Dividends</span>
<span class="t" style="left:351.84px;top:287px;font-size:5.3px;color:#262632;letter-spacing:0.010px;-webkit-text-stroke:0.1px #262632;">Cash Flow</span>
<span class="t" style="left:588.06px;top:314px;font-size:5.1px;color:#4d526c;-webkit-text-stroke:0.2px #4d526c;">1M</span>
<span class="t" style="left:601.97px;top:314px;font-size:5.1px;color:#4d526c;-webkit-text-stroke:0.2px #4d526c;">3M</span>
<span class="t" style="left:616.42px;top:314px;font-size:5.1px;color:#4d526c;-webkit-text-stroke:0.2px #4d526c;">6M</span>
<span class="t" style="left:630.05px;top:314px;font-size:5.1px;color:#4d526c;-webkit-text-stroke:0.2px #4d526c;">1Y</span>
<span class="t" style="left:643.21px;top:314px;font-size:5.1px;color:#4d526c;-webkit-text-stroke:0.2px #4d526c;">2Y</span>
<span class="t" style="left:656.68px;top:314px;font-size:5.1px;color:#4d526c;-webkit-text-stroke:0.2px #4d526c;">5Y</span>
<span class="t" style="left:669.63px;top:314px;font-size:5.0px;color:#1c1c28;font-weight:700;">YTD</span>
<span class="t" style="left:104.24px;top:333px;font-size:4.85px;color:#3c4155;letter-spacing:0.187px;-webkit-text-stroke:0.12px #3c4155;">52500</span>
<span class="t" style="left:104.31px;top:365px;font-size:4.85px;color:#3c4155;letter-spacing:0.142px;-webkit-text-stroke:0.12px #3c4155;">50000</span>
<span class="t" style="left:104.24px;top:402px;font-size:4.85px;color:#3c4155;letter-spacing:0.170px;-webkit-text-stroke:0.12px #3c4155;">47500</span>
<span class="t" style="left:104.23px;top:438px;font-size:4.85px;color:#3c4155;letter-spacing:0.177px;-webkit-text-stroke:0.12px #3c4155;">45000</span>
<span class="t" style="left:104.20px;top:475px;font-size:4.85px;color:#3c4155;letter-spacing:0.195px;-webkit-text-stroke:0.12px #3c4155;">42500</span>
<span class="t" style="left:109.01px;top:482px;font-size:4.85px;color:#3c4155;letter-spacing:0.101px;-webkit-text-stroke:0.12px #3c4155;">Jan 2 2023</span>
<span class="t" style="left:155.83px;top:482px;font-size:4.85px;color:#3c4155;letter-spacing:0.092px;-webkit-text-stroke:0.12px #3c4155;">Jan 26 2023</span>
<span class="t" style="left:204.10px;top:482px;font-size:4.85px;color:#3c4155;letter-spacing:0.059px;-webkit-text-stroke:0.12px #3c4155;">Feb 21 2023</span>
<span class="t" style="left:252.32px;top:482px;font-size:4.85px;color:#3c4155;letter-spacing:0.057px;-webkit-text-stroke:0.12px #3c4155;">Mar 17 2023</span>
<span class="t" style="left:300.48px;top:482px;font-size:4.85px;color:#3c4155;letter-spacing:0.133px;-webkit-text-stroke:0.12px #3c4155;">Apr 12 2023</span>
<span class="t" style="left:350.14px;top:482px;font-size:4.85px;color:#3c4155;letter-spacing:-0.032px;-webkit-text-stroke:0.12px #3c4155;">May 8 2023</span>
<span class="t" style="left:398.21px;top:482px;font-size:4.85px;color:#3c4155;letter-spacing:0.101px;-webkit-text-stroke:0.12px #3c4155;">Jun 1 2023</span>
<span class="t" style="left:445.03px;top:482px;font-size:4.85px;color:#3c4155;letter-spacing:0.094px;-webkit-text-stroke:0.12px #3c4155;">Jun 27 2023</span>
<span class="t" style="left:493.18px;top:482px;font-size:4.85px;color:#3c4155;letter-spacing:0.277px;-webkit-text-stroke:0.12px #3c4155;">Jul 21 2023</span>
<span class="t" style="left:541.45px;top:482px;font-size:4.85px;color:#3c4155;letter-spacing:0.040px;-webkit-text-stroke:0.12px #3c4155;">Aug 16 2023</span>
<span class="t" style="left:589.55px;top:482px;font-size:4.85px;color:#3c4155;letter-spacing:0.074px;-webkit-text-stroke:0.12px #3c4155;">Sep 11 2023</span>
<span class="t" style="left:639.29px;top:482px;font-size:4.85px;color:#3c4155;letter-spacing:0.119px;-webkit-text-stroke:0.12px #3c4155;">Oct 5 2023</span>
<span class="t" style="left:92.00px;top:510px;font-size:5.3px;color:#1c1c28;font-weight:700;transform:translateX(0.83px) scaleX(0.9126);transform-origin:0 0;">Positions</span>
<span class="t" style="left:92.78px;top:518px;font-size:4.85px;color:#5c627d;letter-spacing:0.055px;-webkit-text-stroke:0.1px #5c627d;">List of all positions</span>
<span class="t" style="left:640.89px;top:513px;font-size:5.2px;color:#1c1c28;letter-spacing:-0.090px;-webkit-text-stroke:0.12px #1c1c28;">View events history</span>
</div></div>
</body>
</html>
